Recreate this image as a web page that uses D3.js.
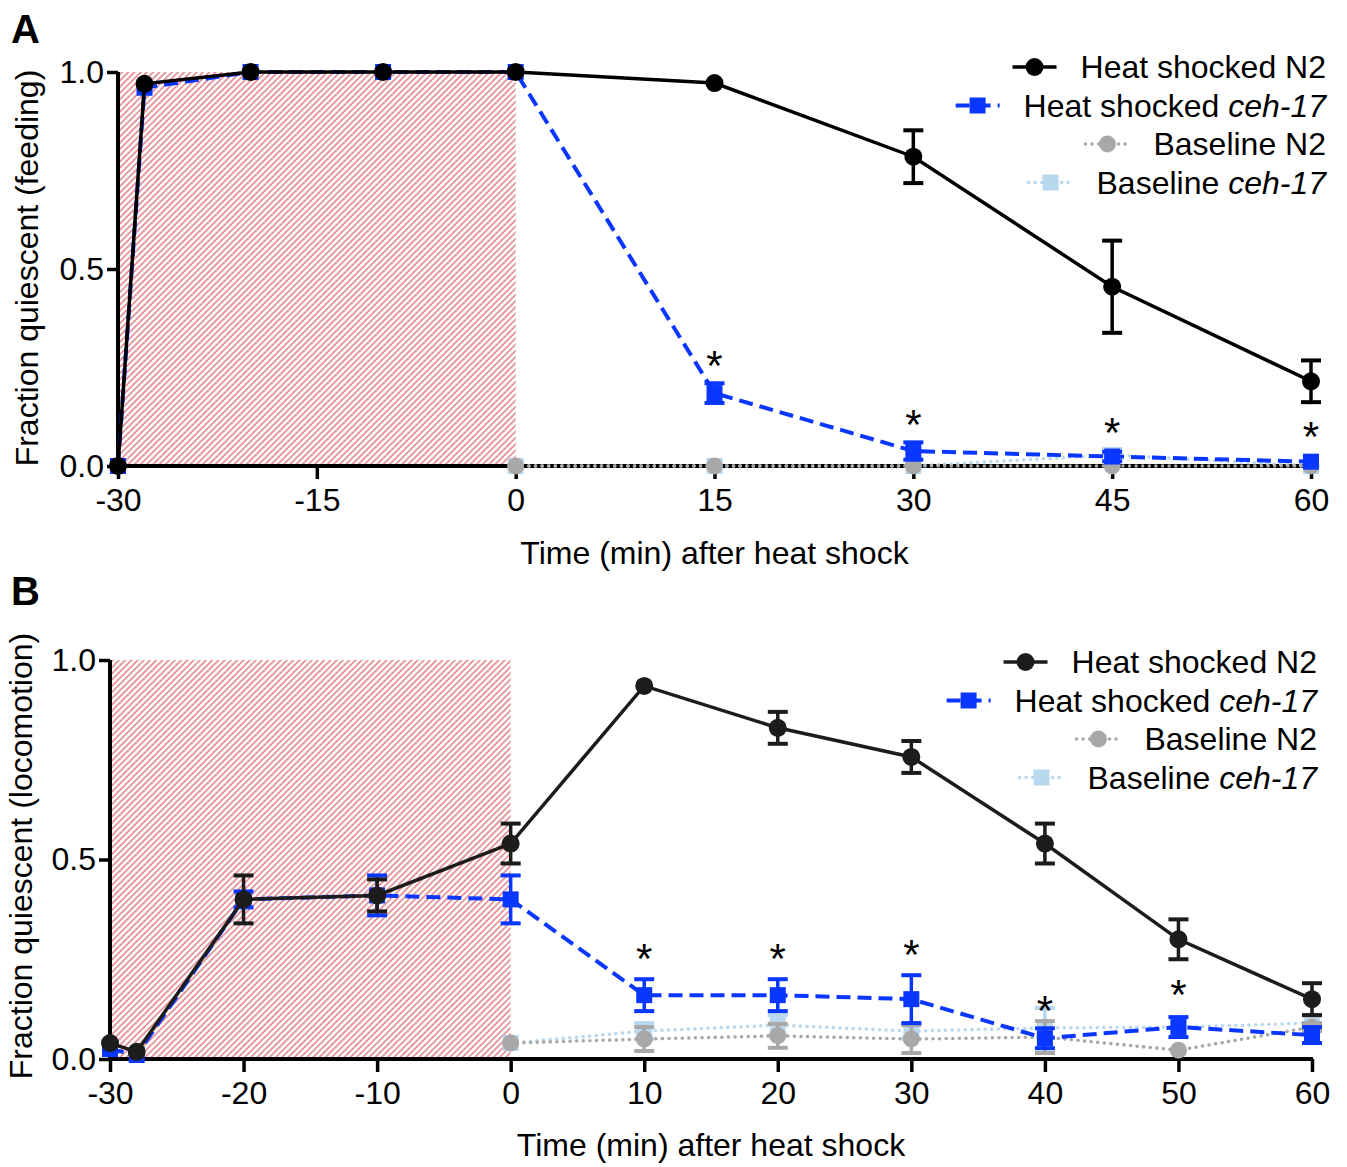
<!DOCTYPE html>
<html>
<head>
<meta charset="utf-8">
<title>Heat shock quiescence</title>
<script src="https://d3js.org/d3.v7.min.js"></script>
<style>
body { margin: 0; background: #fff; }
svg { font-family: "Liberation Sans", Arial, Helvetica, sans-serif; }
.axis path, .axis line { stroke: #000; }
.axis text { font-size: 32px; fill: #000; }
</style>
</head>
<body>
<script>
// ---- panel A: feeding ----
var timesA = [-30, -28, -20, -10, 0, 15, 30, 45, 60];
var hsN2A = [0, 0.97, 1, 1, 1, 0.972, 0.785, 0.455, 0.215];
var hsN2A_err = [0, 0, 0, 0, 0, 0, 0.067, 0.117, 0.053];
var hsCehA = [0, 0.96, 1, 1, 1, 0.185, 0.038, 0.024, 0.011];
var hsCehA_err = [0, 0, 0, 0, 0, 0.025, 0.022, 0.012, 0];
var baseTimesA = [0, 15, 30, 45, 60];
var baseN2A = [0, 0, 0, 0, 0];
var baseN2A_err = [0, 0, 0, 0, 0];
var baseCehA = [0, 0, 0, 0.028, 0];
var baseCehA_err = [0, 0, 0, 0.015, 0];
var starTimesA = [15, 30, 45, 60];
var starValsA = [0.28, 0.13, 0.11, 0.10];
var xTicksA = [-30, -15, 0, 15, 30, 45, 60];

// ---- panel B: locomotion ----
var timesB = [-30, -28, -20, -10, 0, 10, 20, 30, 40, 50, 60];
var hsN2B = [0.04, 0.018, 0.40, 0.41, 0.54, 0.935, 0.83, 0.757, 0.54, 0.30, 0.15];
var hsN2B_err = [0, 0, 0.06, 0.04, 0.05, 0, 0.04, 0.04, 0.05, 0.05, 0.04];
var hsCehB = [0.025, 0.01, 0.40, 0.41, 0.40, 0.16, 0.16, 0.15, 0.052, 0.08, 0.06];
var hsCehB_err = [0, 0, 0.02, 0.05, 0.06, 0.04, 0.04, 0.06, 0.025, 0.025, 0.02];
var baseTimesB = [0, 10, 20, 30, 40, 50, 60];
var baseN2B = [0.04, 0.05, 0.058, 0.05, 0.055, 0.022, 0.08];
var baseN2B_err = [0, 0.03, 0.03, 0.035, 0.04, 0, 0.01];
var baseCehB = [0.04, 0.07, 0.085, 0.07, 0.078, 0.08, 0.09];
var baseCehB_err = [0, 0.02, 0.025, 0.02, 0.05, 0, 0.02];
var starTimesB = [10, 20, 30, 40, 50];
var starValsB = [0.275, 0.275, 0.285, 0.145, 0.185];
var xTicksB = [-30, -20, -10, 0, 10, 20, 30, 40, 50, 60];

var yTicks = [0, 0.5, 1.0];
var legendLabels = [["Heat shocked N2", ""], ["Heat shocked ", "ceh-17"], ["Baseline N2", ""], ["Baseline ", "ceh-17"]];

var blue = "#0a37ff", gray = "#a8a8a8", lightBlue = "#b8d8ef";

var svg = d3.select("body").append("svg")
	.attr("width", 1347).attr("height", 1167);

var defs = svg.append("defs");
var pat = defs.append("pattern").attr("id", "hatch")
	.attr("patternUnits", "userSpaceOnUse")
	.attr("width", 4.4).attr("height", 10)
	.attr("patternTransform", "rotate(45)");
pat.append("rect").attr("width", 4.4).attr("height", 10).attr("fill", "#fff");
pat.append("line").attr("x1", 1).attr("x2", 1).attr("y1", 0).attr("y2", 10)
	.attr("stroke", "#e4868c").attr("stroke-width", 1.6);

function zip(t, v, e) {
	return t.map(function(d, i) { return {t: d, v: v[i], e: e ? e[i] : 0}; });
}

function drawPanel(p) {
	var x = d3.scaleLinear().domain([-30, 60]).range(p.xRange);
	var y = d3.scaleLinear().domain([0, 1]).range(p.yRange);
	var g = svg.append("g");

	// heat shock period
	g.append("rect")
		.attr("x", x(-30) + 2).attr("y", y(1))
		.attr("width", x(0) - x(-30) - 2).attr("height", y(0) - y(1))
		.attr("fill", "url(#hatch)");

	var xAxis = d3.axisBottom(x).tickValues(p.xTicks).tickSize(13).tickSizeOuter(0)
		.tickPadding(9).tickFormat(function(d) { return String(d); });
	var yAxis = d3.axisLeft(y).tickValues(yTicks).tickSize(11).tickSizeOuter(0)
		.tickPadding(3).tickFormat(d3.format(".1f"));
	var gx = g.append("g").attr("class", "axis")
		.attr("transform", "translate(0," + y(0) + ")").call(xAxis);
	var gy = g.append("g").attr("class", "axis")
		.attr("transform", "translate(" + x(-30) + ",0)").call(yAxis);
	gx.select(".domain").attr("stroke-width", 4).attr("d", "M" + (x(-30) - 2) + ",0H" + (x(60) + 1));
	gy.select(".domain").attr("stroke-width", 4).attr("d", "M0," + (y(1)) + "V" + (y(0) + 2));
	g.selectAll(".axis .tick line").attr("stroke-width", 3.5);
	g.selectAll(".axis text").attr("font-family", "Liberation Sans, Arial, sans-serif").attr("font-size", 33);

	// axis titles
	g.append("text").attr("x", (x(-30) + x(60)) / 2).attr("y", p.xTitleY)
		.attr("text-anchor", "middle").attr("font-size", 32).text("Time (min) after heat shock");
	g.append("text")
		.attr("transform", "translate(" + p.yTitleX + "," + p.yTitleCy + ") rotate(-90)")
		.attr("text-anchor", "middle").attr("font-size", 32).text(p.yTitle);
	g.append("text").attr("x", 11).attr("y", p.letterY)
		.attr("font-size", 40).attr("font-weight", "bold").text(p.letter);

	var line = d3.line().x(function(d) { return x(d.t); }).y(function(d) { return y(d.v); });

	p.series.forEach(function(s) {
		var sg = g.append("g");
		sg.append("path").datum(s.data).attr("d", line).attr("fill", "none")
			.attr("stroke", s.color).attr("stroke-width", s.width)
			.attr("stroke-dasharray", s.dash).attr("stroke-linecap", s.cap || "butt");
		var eb = sg.selectAll(".err").data(s.data.filter(function(d) { return d.e > 0; }))
			.enter().append("g");
		eb.append("line").attr("x1", function(d) { return x(d.t); }).attr("x2", function(d) { return x(d.t); })
			.attr("y1", function(d) { return y(d.v - d.e); }).attr("y2", function(d) { return y(d.v + d.e); })
			.attr("stroke", s.color).attr("stroke-width", 3.5);
		[-1, 1].forEach(function(sign) {
			eb.append("line").attr("x1", function(d) { return x(d.t) - 10; }).attr("x2", function(d) { return x(d.t) + 10; })
				.attr("y1", function(d) { return y(d.v + sign * d.e); }).attr("y2", function(d) { return y(d.v + sign * d.e); })
				.attr("stroke", s.color).attr("stroke-width", 4);
		});
		if (s.marker == "circle") {
			sg.selectAll(".m").data(s.data).enter().append("circle")
				.attr("cx", function(d) { return x(d.t); }).attr("cy", function(d) { return y(d.v); })
				.attr("r", s.size / 2).attr("fill", s.color);
		} else {
			sg.selectAll(".m").data(s.data).enter().append("rect")
				.attr("x", function(d) { return x(d.t) - s.size / 2; }).attr("y", function(d) { return y(d.v) - s.size / 2; })
				.attr("width", s.size).attr("height", s.size).attr("fill", s.color);
		}
	});

	// significance stars
	g.selectAll(".star").data(zip(p.starTimes, p.starVals)).enter().append("text")
		.attr("x", function(d) { return x(d.t); }).attr("y", function(d) { return y(d.v) + 24; })
		.attr("text-anchor", "middle").attr("font-size", 42).text("*");

	// legend (draw order reversed: first listed series is last drawn)
	var legendOrder = p.series.slice().reverse();
	legendOrder.forEach(function(s, i) {
		var ty = p.legendY + i * 38.5;
		var t = g.append("text").attr("x", p.legendRight).attr("y", ty)
			.attr("text-anchor", "end").attr("font-size", 32);
		t.append("tspan").text(legendLabels[i][0]);
		if (legendLabels[i][1]) t.append("tspan").attr("font-style", "italic").text(legendLabels[i][1]);
		var w = t.node().getComputedTextLength();
		var x1 = p.legendRight - w - 24, x0 = x1 - 44, cy = ty - 11;
		g.append("line").attr("x1", x0).attr("x2", x1).attr("y1", cy).attr("y2", cy)
			.attr("stroke", s.color).attr("stroke-width", s.width)
			.attr("stroke-dasharray", s.dash).attr("stroke-linecap", s.cap || "butt");
		if (s.marker == "circle") {
			g.append("circle").attr("cx", (x0 + x1) / 2).attr("cy", cy).attr("r", s.size / 2).attr("fill", s.color);
		} else {
			g.append("rect").attr("x", (x0 + x1) / 2 - s.size / 2).attr("y", cy - s.size / 2)
				.attr("width", s.size).attr("height", s.size).attr("fill", s.color);
		}
	});
}

drawPanel({
	letter: "A", letterY: 43,
	xRange: [118, 1311], yRange: [466, 72],
	xTicks: xTicksA,
	xTitleY: 564, yTitle: "Fraction quiescent (feeding)", yTitleX: 38, yTitleCy: 268,
	legendRight: 1326, legendY: 78,
	starTimes: starTimesA, starVals: starValsA,
	series: [
		{data: zip(baseTimesA, baseCehA, baseCehA_err), color: lightBlue, width: 3.5, dash: "0.1,6.5", cap: "round", marker: "rect", size: 16},
		{data: zip(baseTimesA, baseN2A, baseN2A_err), color: gray, width: 3.5, dash: "0.1,6.5", cap: "round", marker: "circle", size: 17},
		{data: zip(timesA, hsCehA, hsCehA_err), color: blue, width: 4, dash: "14,7", marker: "rect", size: 16},
		{data: zip(timesA, hsN2A, hsN2A_err), color: "#000", width: 3.5, dash: null, marker: "circle", size: 18}
	]
});

drawPanel({
	letter: "B", letterY: 605,
	xRange: [110, 1312], yRange: [1059, 660],
	xTicks: xTicksB,
	xTitleY: 1156, yTitle: "Fraction quiescent (locomotion)", yTitleX: 32, yTitleCy: 856,
	legendRight: 1317, legendY: 673,
	starTimes: starTimesB, starVals: starValsB,
	series: [
		{data: zip(baseTimesB, baseCehB, baseCehB_err), color: lightBlue, width: 3.5, dash: "0.1,6.5", cap: "round", marker: "rect", size: 16},
		{data: zip(baseTimesB, baseN2B, baseN2B_err), color: gray, width: 3.5, dash: "0.1,6.5", cap: "round", marker: "circle", size: 17},
		{data: zip(timesB, hsCehB, hsCehB_err), color: blue, width: 4, dash: "14,7", marker: "rect", size: 16},
		{data: zip(timesB, hsN2B, hsN2B_err), color: "#1c1c1c", width: 3.5, dash: null, marker: "circle", size: 18}
	]
});
</script>
</body>
</html>
